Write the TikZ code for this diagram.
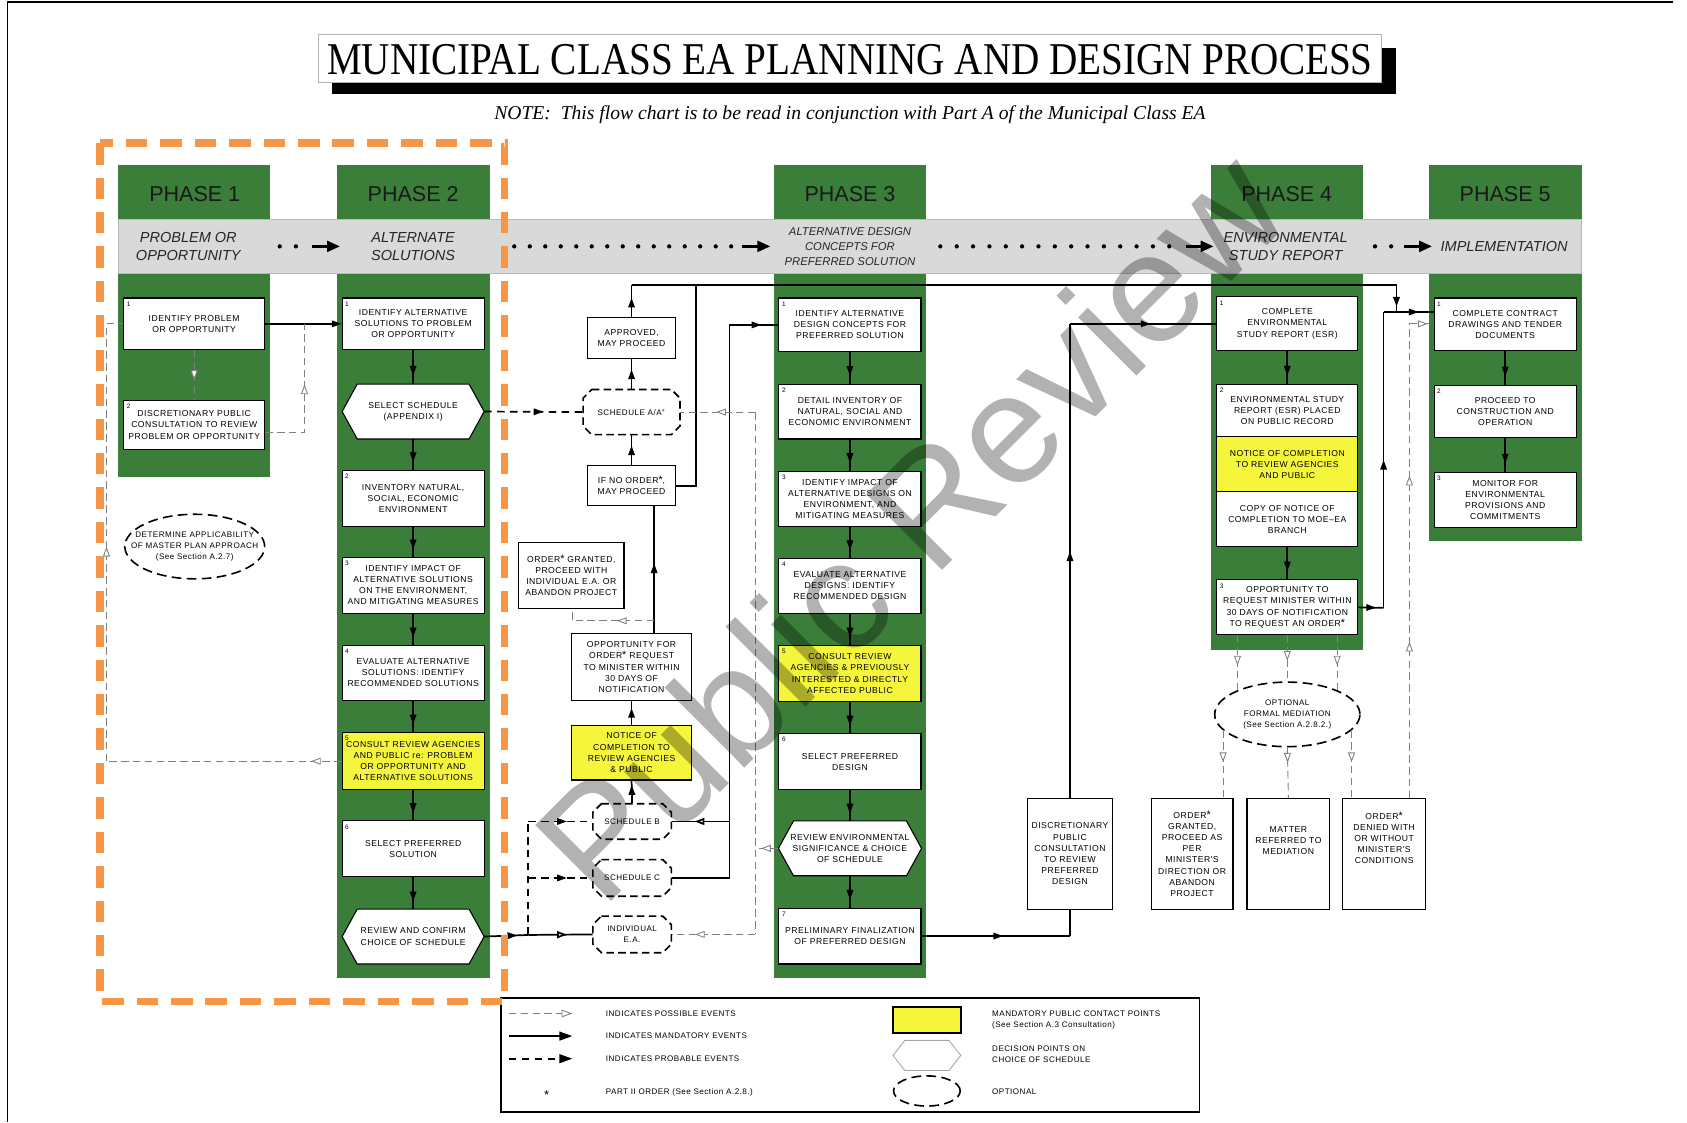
\documentclass[tikz,border=0pt]{standalone}
\usepackage{fontspec}
\usepackage{graphicx}
\setmainfont{Liberation Serif}
\setsansfont{Liberation Sans}
\newfontfamily\bxfam[LetterSpace=6]{Liberation Sans}
\usetikzlibrary{arrows.meta,decorations.markings,shapes.geometric}
\definecolor{pgreen}{RGB}{58,126,58}
\definecolor{pyellow}{RGB}{245,245,60}
\definecolor{pband}{RGB}{217,217,217}
\definecolor{porange}{RGB}{247,150,70}
\newcommand{\bxfont}{\bxfam\fontsize{8}{10.3}\selectfont}
\newcommand{\smfont}{\bxfam\fontsize{7.5}{10}\selectfont}
\newcommand{\oast}{{\fontsize{10}{10}\selectfont *}}
\newcommand{\hexshape}[6]{%
  \draw[hexln] ({#2-#4},#3) -- ({#2-#4+14},{#3-#5}) -- ({#2+#4-14},{#3-#5}) -- ({#2+#4},#3) -- ({#2+#4-14},{#3+#5}) -- ({#2-#4+14},{#3+#5}) -- cycle;
  \node[hxt] (#1) at (#2,#3) {#6};
  \coordinate (#1-w) at ({#2-#4},#3);
  \coordinate (#1-e) at ({#2+#4},#3);
  \coordinate (#1-n) at (#2,{#3-#5});
  \coordinate (#1-s) at (#2,{#3+#5});
}
\newcommand{\schshape}[6]{%
  \draw[schln] ({#2-#4+8},{#3-#5}) -- ({#2+#4-8},{#3-#5}) -- ({#2+#4},{#3-#5+8}) -- ({#2+#4},{#3+#5-8}) -- ({#2+#4-8},{#3+#5}) -- ({#2-#4+8},{#3+#5}) -- ({#2-#4},{#3+#5-8}) -- ({#2-#4},{#3-#5+8}) -- cycle;
  \node[inner sep=0pt, font=\smfont, align=center, minimum width={2*#4pt}, minimum height={2*#5pt}] (#1) at (#2,#3) {#6};
}
\newcommand{\boxnum}[2]{\node[nlab] (#1-num) at ([xshift=5pt,yshift=-6pt]#1.north west) {#2};}
\begin{document}
\begin{tikzpicture}[x=1pt,y=-1pt,
  bx/.style={draw=black, line width=1pt, fill=white, font=\bxfont, align=center, inner sep=0pt, minimum width=132pt, minimum height=#1},
  ybx/.style={bx=#1, fill=pyellow},
  nlab/.style={font=\sffamily\fontsize{6}{6}\selectfont, inner sep=0pt},
  hexln/.style={draw=black, line width=1pt, fill=white},
  hxt/.style={font=\bxfont, align=center, inner sep=0pt},
  schln/.style={draw=black, line width=1.5pt, dash pattern=on 7pt off 4pt, fill=white},
  optell/.style={ellipse, draw=black, line width=1.5pt, dash pattern=on 9pt off 5pt, fill=white, inner sep=0pt},
  mainln/.style={draw=black, line width=1.6pt},
  poss/.style={draw=gray, line width=0.8pt, dash pattern=on 7pt off 4pt},
  prob/.style={draw=black, line width=1.6pt, dash pattern=on 7pt off 5pt},
  marr/.style={postaction={decorate, decoration={markings, mark=at position #1 with {\arrow{Triangle[length=9pt,width=6pt]}}}}},
  oarr/.style={postaction={decorate, decoration={markings, mark=at position #1 with {\arrow{Triangle[open,fill=white,length=9pt,width=6.5pt]}}}}},
  phh/.style={font=\sffamily\fontsize{20}{20}\selectfont, text=black!90, inner sep=0pt},
  bandt/.style={font=\sffamily\itshape\fontsize{13.5}{16.5}\selectfont, text=black!85, align=center, inner sep=0pt},
  bandarr/.style={line width=2.6pt, -{Triangle[length=12pt,width=10pt]}},
  legt/.style={font=\smfont, inner sep=0pt, align=left, anchor=west}
]
\useasboundingbox (0,0) rectangle (1568,1043);
\fill[white] (0,0) rectangle (1568,1043);
% frame
\draw[line width=1.3pt] (1555,2) -- (7,2) -- (7,1043);

% title
\node[fill=black, minimum width=989pt, minimum height=43pt, inner sep=0pt, anchor=north west] (tshadow) at (308,44) {};
\node[draw=gray!60, line width=0.8pt, fill=white, minimum width=988pt, minimum height=44pt, inner sep=0pt, anchor=north west] (tbox) at (296,32) {};
\node[inner sep=0pt] (title) at (790,55) {\resizebox{972pt}{28pt}{\fontsize{36}{36}\selectfont MUNICIPAL CLASS EA PLANNING AND DESIGN PROCESS}};
\node[inner sep=0pt] (note) at (790,107) {\resizebox{661pt}{!}{\itshape\fontsize{17}{17}\selectfont NOTE:\ \ This flow chart is to be read in conjunction with Part A of the Municipal Class EA}};

% phase columns
\fill[pgreen] (110,153) rectangle (251,443);
\fill[pgreen] (313,153) rectangle (455,909);
\fill[pgreen] (719,153) rectangle (861,909);
\fill[pgreen] (1126,153) rectangle (1267,604);
\fill[pgreen] (1328,153) rectangle (1470,503);
\node[phh] (ph1) at (181,180) {PHASE 1};
\node[phh] (ph2) at (384,180) {PHASE 2};
\node[phh] (ph3) at (790,180) {PHASE 3};
\node[phh] (ph4) at (1196,180) {PHASE 4};
\node[phh] (ph5) at (1399,180) {PHASE 5};

% band
\filldraw[fill=pband, draw=gray!55, line width=0.6pt] (110,204) rectangle (1470,254);
\node[bandt] (bt1) at (175,229) {PROBLEM OR\\OPPORTUNITY};
\node[bandt] (bt2) at (384,229) {ALTERNATE\\SOLUTIONS};
\node[bandt, font=\sffamily\itshape\fontsize{10.5}{14}\selectfont] (bt3) at (790,229) {ALTERNATIVE DESIGN\\CONCEPTS FOR\\PREFERRED SOLUTION};
\node[bandt] (bt4) at (1195,229) {ENVIRONMENTAL\\STUDY REPORT};
\node[bandt] (bt5) at (1398,229) {IMPLEMENTATION};
\foreach \x in {260,275} \fill (\x,229) circle (2pt);
\foreach \i in {0,...,14} \fill ({478+\i*14.4},229) circle (2pt);
\foreach \i in {0,...,14} \fill ({874+\i*15.2},229) circle (2pt);
\foreach \x in {1278,1293} \fill (\x,229) circle (2pt);
\coordinate (ba1) at (290,229); \coordinate (ba1e) at (316,229);
\coordinate (ba2) at (690,229); \coordinate (ba2e) at (716,229);
\coordinate (ba3) at (1102,229); \coordinate (ba3e) at (1128,229);
\coordinate (ba4) at (1305,229); \coordinate (ba4e) at (1331,229);
\draw[bandarr] (ba1) -- (ba1e);
\draw[bandarr] (ba2) -- (ba2e);
\draw[bandarr] (ba3) -- (ba3e);
\draw[bandarr] (ba4) -- (ba4e);

% ---------- PHASE 1
\node[bx=48pt, minimum width=131pt] (p1b1) at (180.5,301) {IDENTIFY PROBLEM\\OR OPPORTUNITY}; \boxnum{p1b1}{1}
\node[bx=46pt, minimum width=131pt] (p1b2) at (180.5,395) {DISCRETIONARY PUBLIC\\CONSULTATION TO REVIEW\\PROBLEM OR OPPORTUNITY}; \boxnum{p1b2}{2}
\node[optell, minimum width=130pt, minimum height=60pt] (p1ell) at (181,508) {};
\node[font=\smfont, align=center, inner sep=0pt] (p1ellt) at (181,508) {DETERMINE APPLICABILITY\\OF MASTER PLAN APPROACH\\(See Section A.2.7)};

% ---------- PHASE 2
\node[bx=48pt] (p2b1) at (384,301) {IDENTIFY ALTERNATIVE\\SOLUTIONS TO PROBLEM\\OR OPPORTUNITY}; \boxnum{p2b1}{1}
\hexshape{p2hx}{384}{382.5}{66}{25.5}{SELECT SCHEDULE\\(APPENDIX I)}
\node[bx=52pt] (p2b2) at (384,463) {INVENTORY NATURAL,\\SOCIAL, ECONOMIC\\ENVIRONMENT}; \boxnum{p2b2}{2}
\node[bx=52pt] (p2b3) at (384,544) {IDENTIFY IMPACT OF\\ALTERNATIVE SOLUTIONS\\ON THE ENVIRONMENT,\\AND MITIGATING MEASURES}; \boxnum{p2b3}{3}
\node[bx=51pt] (p2b4) at (384,625.5) {EVALUATE ALTERNATIVE\\SOLUTIONS: IDENTIFY\\RECOMMENDED SOLUTIONS}; \boxnum{p2b4}{4}
\node[ybx=53pt] (p2b5) at (384,707.5) {CONSULT REVIEW AGENCIES\\AND PUBLIC re: PROBLEM\\OR OPPORTUNITY AND\\ALTERNATIVE SOLUTIONS}; \boxnum{p2b5}{5}
\node[bx=52pt] (p2b6) at (384,789) {SELECT PREFERRED\\SOLUTION}; \boxnum{p2b6}{6}
\hexshape{p2hx2}{384}{870.5}{66}{25.5}{REVIEW AND CONFIRM\\CHOICE OF SCHEDULE}

% ---------- MIDDLE
\node[bx=38pt, minimum width=82pt] (appr) at (587,314) {APPROVED,\\MAY PROCEED};
\schshape{schA}{587}{383}{45}{21}{SCHEDULE A/A\textsuperscript{+}}
\node[bx=37pt, minimum width=82pt] (ifno) at (587,451.5) {IF NO ORDER\oast,\\MAY PROCEED};
\node[bx=62pt, minimum width=98pt] (ordg) at (531,535) {ORDER\oast{} GRANTED,\\PROCEED WITH\\INDIVIDUAL E.A. OR\\ABANDON PROJECT};
\node[bx=62pt, minimum width=112pt] (opp) at (587,620) {OPPORTUNITY FOR\\ORDER\oast{} REQUEST\\TO MINISTER WITHIN\\30 DAYS OF\\NOTIFICATION};
\node[ybx=51pt, minimum width=112pt] (notice) at (587,699.5) {NOTICE OF\\COMPLETION TO\\REVIEW AGENCIES\\\& PUBLIC};
\schshape{schB}{587.5}{763.5}{36.5}{16.5}{SCHEDULE B}
\schshape{schC}{587.5}{816}{36.5}{17}{SCHEDULE C}
\schshape{indiv}{587.5}{868.5}{36.5}{17}{INDIVIDUAL\\E.A.}

% ---------- PHASE 3
\node[bx=50pt] (p3b1) at (790,302) {IDENTIFY ALTERNATIVE\\DESIGN CONCEPTS FOR\\PREFERRED SOLUTION}; \boxnum{p3b1}{1}
\node[bx=51pt] (p3b2) at (790,382.5) {DETAIL INVENTORY OF\\NATURAL, SOCIAL AND\\ECONOMIC ENVIRONMENT}; \boxnum{p3b2}{2}
\node[bx=51pt] (p3b3) at (790,463.5) {IDENTIFY IMPACT OF\\ALTERNATIVE DESIGNS ON\\ENVIRONMENT, AND\\MITIGATING MEASURES}; \boxnum{p3b3}{3}
\node[bx=51pt] (p3b4) at (790,544.5) {EVALUATE ALTERNATIVE\\DESIGNS: IDENTIFY\\RECOMMENDED DESIGN}; \boxnum{p3b4}{4}
\node[ybx=52pt] (p3b5) at (790,626) {CONSULT REVIEW\\AGENCIES \& PREVIOUSLY\\INTERESTED \& DIRECTLY\\AFFECTED PUBLIC}; \boxnum{p3b5}{5}
\node[bx=52pt] (p3b6) at (790,708) {SELECT PREFERRED\\DESIGN}; \boxnum{p3b6}{6}
\hexshape{p3hx}{790}{788.5}{66.5}{25.5}{REVIEW ENVIRONMENTAL\\SIGNIFICANCE \& CHOICE\\OF SCHEDULE}
\node[bx=52pt] (p3b7) at (790,870) {PRELIMINARY FINALIZATION\\OF PREFERRED DESIGN}; \boxnum{p3b7}{7}

% ---------- PHASE 4
\node[bx=50pt, minimum width=131pt] (p4b1) at (1196.5,301) {COMPLETE\\ENVIRONMENTAL\\STUDY REPORT (ESR)}; \boxnum{p4b1}{1}
\node[bx=49pt, minimum width=131pt] (p4b2a) at (1196.5,381.5) {ENVIRONMENTAL STUDY\\REPORT (ESR) PLACED\\ON PUBLIC RECORD}; \boxnum{p4b2a}{2}
\node[ybx=51pt, minimum width=131pt] (p4b2b) at (1196.5,431.5) {NOTICE OF COMPLETION\\TO REVIEW AGENCIES\\AND PUBLIC};
\node[bx=51pt, minimum width=131pt] (p4b2c) at (1196.5,482.5) {COPY OF NOTICE OF\\COMPLETION TO MOE–EA\\BRANCH};
\node[bx=51pt, minimum width=131pt] (p4b3) at (1196.5,564.5) {OPPORTUNITY TO\\REQUEST MINISTER WITHIN\\30 DAYS OF NOTIFICATION\\TO REQUEST AN ORDER\oast}; \boxnum{p4b3}{3}
\node[optell, minimum width=135pt, minimum height=60pt] (medi) at (1196.5,664) {};
\node[font=\smfont, align=center, inner sep=0pt] (medit) at (1196.5,664) {OPTIONAL\\FORMAL MEDIATION\\(See Section A.2.8.2.)};

\node[bx=103pt, minimum width=79pt] (disc) at (994.5,793.5) {DISCRETIONARY\\PUBLIC\\CONSULTATION\\TO REVIEW\\PREFERRED\\DESIGN};
\node[bx=103pt, minimum width=76pt] (ordgr) at (1108,793.5) {ORDER\oast\\GRANTED,\\PROCEED AS\\PER\\MINISTER'S\\DIRECTION OR\\ABANDON\\PROJECT};
\node[bx=103pt, minimum width=77pt] (matter) at (1197.5,793.5) {};
\node[hxt] (mattert) at (1197.5,781) {MATTER\\REFERRED TO\\MEDIATION};
\node[bx=103pt, minimum width=77pt] (denied) at (1286.5,793.5) {};
\node[hxt] (deniedt) at (1286.5,779) {ORDER\oast\\DENIED WITH\\OR WITHOUT\\MINISTER'S\\CONDITIONS};

% ---------- PHASE 5
\node[bx=49pt] (p5b1) at (1399,301.5) {COMPLETE CONTRACT\\DRAWINGS AND TENDER\\DOCUMENTS}; \boxnum{p5b1}{1}
\node[bx=49pt] (p5b2) at (1399,382.5) {PROCEED TO\\CONSTRUCTION AND\\OPERATION}; \boxnum{p5b2}{2}
\node[bx=51pt] (p5b3) at (1399,464.5) {MONITOR FOR\\ENVIRONMENTAL\\PROVISIONS AND\\COMMITMENTS}; \boxnum{p5b3}{3}

% ================= CONNECTORS
% phase 1
\draw[mainln, -{Triangle[length=9pt,width=6pt]}] (p1b1.east) -- (p2b1.west);
\draw[poss, oarr=0.6] (p1b1.south) -- (p1b2.north);
\coordinate (j1t) at (283,301);
\draw[poss, oarr=0.59] ([yshift=-7pt]p1b2.east) -| (j1t);
\coordinate (lc1) at (99,707.5); \coordinate (lc2) at (99,301);
\draw[poss, oarr=0.13] (p2b5.west) -- (lc1);
\draw[poss, oarr=0.49] (lc1) -- (lc2);
\draw[poss] (lc2) -- (p1b1.west);

% phase 2 column
\draw[mainln, marr=0.75] (p2b1.south) -- (p2hx-n);
\draw[mainln, marr=0.75] (p2hx-s) -- (p2b2.north);
\draw[mainln, marr=0.75] (p2b2.south) -- (p2b3.north);
\draw[mainln, marr=0.75] (p2b3.south) -- (p2b4.north);
\draw[mainln, marr=0.75] (p2b4.south) -- (p2b5.north);
\draw[mainln, marr=0.75] (p2b5.south) -- (p2b6.north);
\draw[mainln, marr=0.75] (p2b6.south) -- (p2hx2-n);

% middle
\draw[prob, marr=0.6] (p2hx-e) -- (schA.west);
\draw[mainln, marr=0.65] (schA.north) -- (appr.south);
\draw[mainln, marr=0.65] (ifno.north) -- (schA.south);
\coordinate (topL) at (587,265); \coordinate (topR) at (1298,265); \coordinate (topD) at (1298,290);
\draw[mainln, marr=0.6] (appr.north) -- (topL);
\draw[mainln] (topL) -- (topR);
\draw[mainln, marr=0.8] (topR) -- (topD);
\coordinate (in1) at (647,451.5); \coordinate (in2) at (647,265);
\draw[mainln] (ifno.east) -- (in1) -- (in2);
\coordinate (v608) at (608,0);
\draw[mainln, marr=0.55] (opp.north -| v608) -- (ifno.south -| v608);
\coordinate (ogj) at (608,577); \coordinate (ogk) at (532,577);
\draw[poss, oarr=0.4] (ogj) -- (ogk) -- (ogk |- ordg.south);
\draw[mainln, marr=0.7] (notice.north) -- (opp.south);
\draw[mainln, marr=0.8] (schB.north) -- (notice.south);
\coordinate (rj) at (491,869); \coordinate (rjB) at (491,763.5); \coordinate (rjC) at (491,816);
\draw[mainln, marr=0.75] (p2hx2-e) -- (rj);
\draw[mainln, oarr=0.6] (rj) -- (indiv.west);
\draw[prob] (rj) -- (rjB);
\draw[prob, marr=0.6] (rjB) -- (schB.west);
\draw[prob, marr=0.6] (rjC) -- (schC.west);
\coordinate (vC) at (678,816); \coordinate (vT) at (678,302); \coordinate (vB) at (678,763.5);
\draw[mainln] (schC.east) -- (vC) -- (vT);
\draw[mainln, marr=0.65] (vT) -- (p3b1.west);
\draw[mainln, oarr=0.6] (vB) -- (schB.east);
\coordinate (gT) at (702,383); \coordinate (gM) at (702,788.5); \coordinate (gB) at (702,868.5);
\draw[poss] (gT) -- (gB);
\draw[poss, oarr=0.52] (gT) -- (schA.east);
\draw[poss, oarr=0.72] (gB) -- (indiv.east);
\draw[poss, oarr=0.75] (p3hx-w) -- (gM);

% phase 3 column
\draw[mainln, marr=0.75] (p3b1.south) -- (p3b2.north);
\draw[mainln, marr=0.75] (p3b2.south) -- (p3b3.north);
\draw[mainln, marr=0.75] (p3b3.south) -- (p3b4.north);
\draw[mainln, marr=0.75] (p3b4.south) -- (p3b5.north);
\draw[mainln, marr=0.75] (p3b5.south) -- (p3b6.north);
\draw[mainln, marr=0.75] (p3b6.south) -- (p3hx-n);
\draw[mainln, marr=0.75] (p3hx-s) -- (p3b7.north);
\coordinate (dj) at (994.5,870); \coordinate (dT) at (994.5,301);
\draw[mainln, marr=0.55] (p3b7.east) -- (dj);
\draw[mainln] (dj) -- (disc.south);
\draw[mainln, marr=0.52] (disc.north) -- (dT);
\draw[mainln, marr=0.55] (dT) -- (p4b1.west);

% phase 4
\draw[mainln, marr=0.75] (p4b1.south) -- (p4b2a.north);
\draw[mainln, marr=0.75] (p4b2c.south) -- (p4b3.north);
\coordinate (r4) at (1286,565); \coordinate (r4t) at (1286,290);
\draw[mainln, marr=0.7] (p4b3.east) -- (r4);
\draw[mainln, marr=0.5] (r4) -- (r4t);
\draw[mainln, marr=0.7] (r4t) -- (p5b1.west |- r4t);
\draw[poss, oarr=0.55] (medi.154 |- p4b3.south) -- (medi.154);
\draw[poss, oarr=0.55] (p4b3.south -| medi.north) -- (medi.north);
\draw[poss, oarr=0.55] (medi.26 |- p4b3.south) -- (medi.26);
\draw[poss, oarr=0.47] (medi.194) -- (medi.194 |- ordgr.north);
\draw[poss, oarr=0.3] (medi.south) -- (matter.north);
\draw[poss, oarr=0.47] (medi.346) -- (medi.346 |- denied.north);
\coordinate (dd) at (1310,301); \coordinate (ddb) at (1310,742);
\draw[poss, oarr=0.33, oarr=0.68] (ddb) -- (dd);
\draw[poss, oarr=0.75] (dd) -- (p5b1.west |- dd);

% phase 5
\draw[mainln, marr=0.75] (p5b1.south) -- (p5b2.north);
\draw[mainln, marr=0.75] (p5b2.south) -- (p5b3.north);

% ---------- LEGEND
\node[draw=black, line width=1.3pt, minimum width=649pt, minimum height=106pt, inner sep=0pt, anchor=north west] (leg) at (465,927) {};
\coordinate (lg1a) at (473,942); \coordinate (lg1b) at (532,942);
\coordinate (lg2a) at (473,963); \coordinate (lg2b) at (532,963);
\coordinate (lg3a) at (473,984); \coordinate (lg3b) at (532,984);
\draw[poss, -{Triangle[open,fill=white,length=10pt,width=7pt]}] (lg1a) -- (lg1b);
\draw[mainln, line width=2pt, -{Triangle[length=12pt,width=8pt]}] (lg2a) -- (lg2b);
\draw[prob, line width=2pt, -{Triangle[length=12pt,width=8pt]}] (lg3a) -- (lg3b);
\node[font=\sffamily\fontsize{12}{12}\selectfont, inner sep=0pt] (lgs) at (508,1018) {*};
\node[legt] (lt1) at (563,942) {INDICATES POSSIBLE EVENTS};
\node[legt] (lt2) at (563,963) {INDICATES MANDATORY EVENTS};
\node[legt] (lt3) at (563,984) {INDICATES PROBABLE EVENTS};
\node[legt] (lt4) at (563,1015) {PART II ORDER (See Section A.2.8.)};
\node[draw=black, line width=1.5pt, fill=pyellow, minimum width=63pt, minimum height=24pt, inner sep=0pt] (lgy) at (861.5,948) {};
\draw[draw=gray!70, line width=0.8pt, fill=white] (830,981) -- (841,967) -- (882,967) -- (893,981) -- (882,995) -- (841,995) -- cycle;
\node[optell, minimum width=62pt, minimum height=28pt] (lge) at (861.5,1014) {};
\node[legt] (lt5) at (922,948) {MANDATORY PUBLIC CONTACT POINTS\\(See Section A.3 Consultation)};
\node[legt] (lt6) at (922,980) {DECISION POINTS ON\\CHOICE OF SCHEDULE};
\node[legt] (lt7) at (922,1015) {OPTIONAL};

% orange dashed frame
\draw[porange, line width=7pt, dash pattern=on 20pt off 12pt] (93,133) rectangle (469,931);

% watermark
\node[rotate=45, font=\sffamily\fontsize{145}{145}\selectfont, text=black, text opacity=0.3, inner sep=0pt] (wm) at (845,488) {Public Review};
\end{tikzpicture}
\end{document}
